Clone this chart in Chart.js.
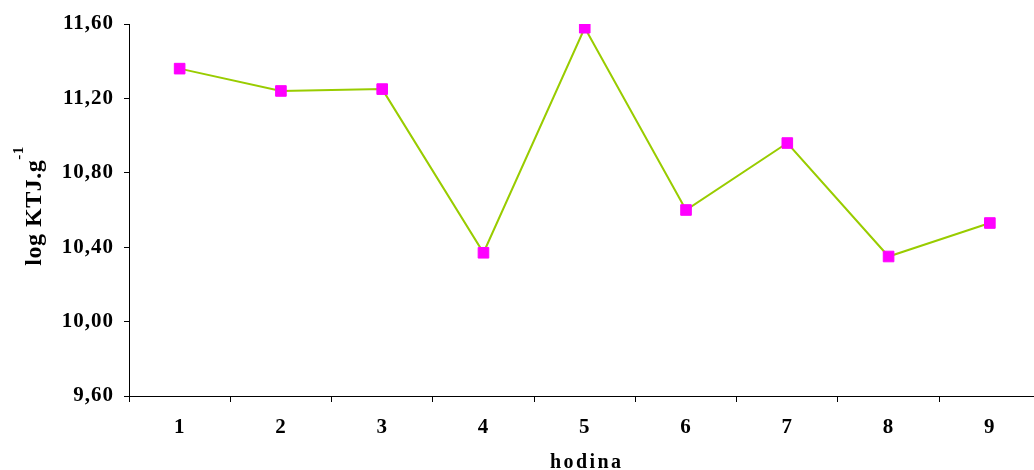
<!DOCTYPE html>
<html>
<head>
<meta charset="utf-8">
<script src="https://cdn.jsdelivr.net/npm/chart.js@4/dist/chart.umd.min.js"></script>
<style>
  html, body { margin: 0; padding: 0; background: #fff; overflow: hidden; }
  #wrap { width: 1049px; height: 470px; }
</style>
</head>
<body>
<div id="wrap"><canvas id="chart" width="1049" height="470"></canvas></div>
<script>
// hodina vs log KTJ.g-1
// line: #99CC00, markers: #FF00FF

const hours = ["1", "2", "3", "4", "5", "6", "7", "8", "9"];
const logKtj = [11.36, 11.24, 11.25, 10.37, 11.58, 10.60, 10.96, 10.35, 10.53];
const yTicks = [9.6, 10.0, 10.4, 10.8, 11.2, 11.6];

const serif = "'Liberation Serif', 'Times New Roman', serif";
Chart.defaults.font.family = serif;
Chart.defaults.color = "#000";

// axis titles drawn by hand: superscript on y, spaced letters on x
const axisTitles = {
    id: "axisTitles",
    beforeDraw(chart) {
        chart.ctx.letterSpacing = "1px";
    },
    afterDraw(chart) {
        const ctx = chart.ctx;
        const area = chart.chartArea;
        ctx.save();
        ctx.fillStyle = "#000";

        // x title
        ctx.letterSpacing = "2.4px";
        ctx.font = "bold 20px " + serif;
        ctx.textAlign = "center";
        ctx.textBaseline = "alphabetic";
        ctx.fillText("hodina", (area.left + area.right) / 2 + 2, 468);

        // y title
        ctx.letterSpacing = "0.5px";
        const main = "log KTJ.g";
        const sup = "-1";
        ctx.font = "bold 24px " + serif;
        const wMain = ctx.measureText(main).width;
        ctx.font = "bold 15px " + serif;
        const wSup = ctx.measureText(sup).width;
        const start = -(wMain + wSup) / 2;
        ctx.translate(41, 206);
        ctx.rotate(-Math.PI / 2);
        ctx.textAlign = "left";
        ctx.font = "bold 24px " + serif;
        ctx.fillText(main, start, 0);
        ctx.font = "bold 15px " + serif;
        ctx.fillText(sup, start + wMain, -18);
        ctx.restore();
    }
};

const chart = new Chart(document.getElementById("chart"), {
    type: "line",
    data: {
        labels: hours,
        datasets: [{
            data: logKtj,
            borderColor: "#99CC00",
            borderWidth: 2,
            tension: 0,
            pointStyle: "rect",
            pointRadius: 7.5,
            pointBackgroundColor: "#FF00FF",
            pointBorderColor: "#FF00FF",
            pointBorderWidth: 1
        }]
    },
    options: {
        responsive: false,
        devicePixelRatio: 1,
        animation: false,
        layout: { padding: { top: 24, left: 0, right: 0, bottom: 0 } },
        plugins: {
            legend: { display: false },
            tooltip: { enabled: false }
        },
        scales: {
            x: {
                offset: true,
                grid: {
                    offset: true,
                    drawOnChartArea: false,
                    drawTicks: true,
                    tickLength: 6,
                    color: "#000",
                    lineWidth: 1
                },
                border: { color: "#000", width: 1 },
                ticks: {
                    font: { size: 21, weight: "bold" },
                    padding: 13,
                    maxRotation: 0
                },
                afterFit(scale) { scale.height = 74; }
            },
            y: {
                min: yTicks[0],
                max: yTicks[yTicks.length - 1],
                afterBuildTicks(scale) {
                    scale.ticks = yTicks.map(v => ({ value: v }));
                },
                grid: {
                    drawOnChartArea: false,
                    drawTicks: true,
                    tickLength: 5,
                    color: "#000",
                    lineWidth: 1
                },
                border: { color: "#000", width: 1 },
                ticks: {
                    font: { size: 21, weight: "bold" },
                    padding: 10,
                    callback: v => v.toFixed(2).replace(".", ",")
                },
                afterFit(scale) { scale.width = 129; }
            }
        }
    },
    plugins: [axisTitles]
});
</script>
</body>
</html>
